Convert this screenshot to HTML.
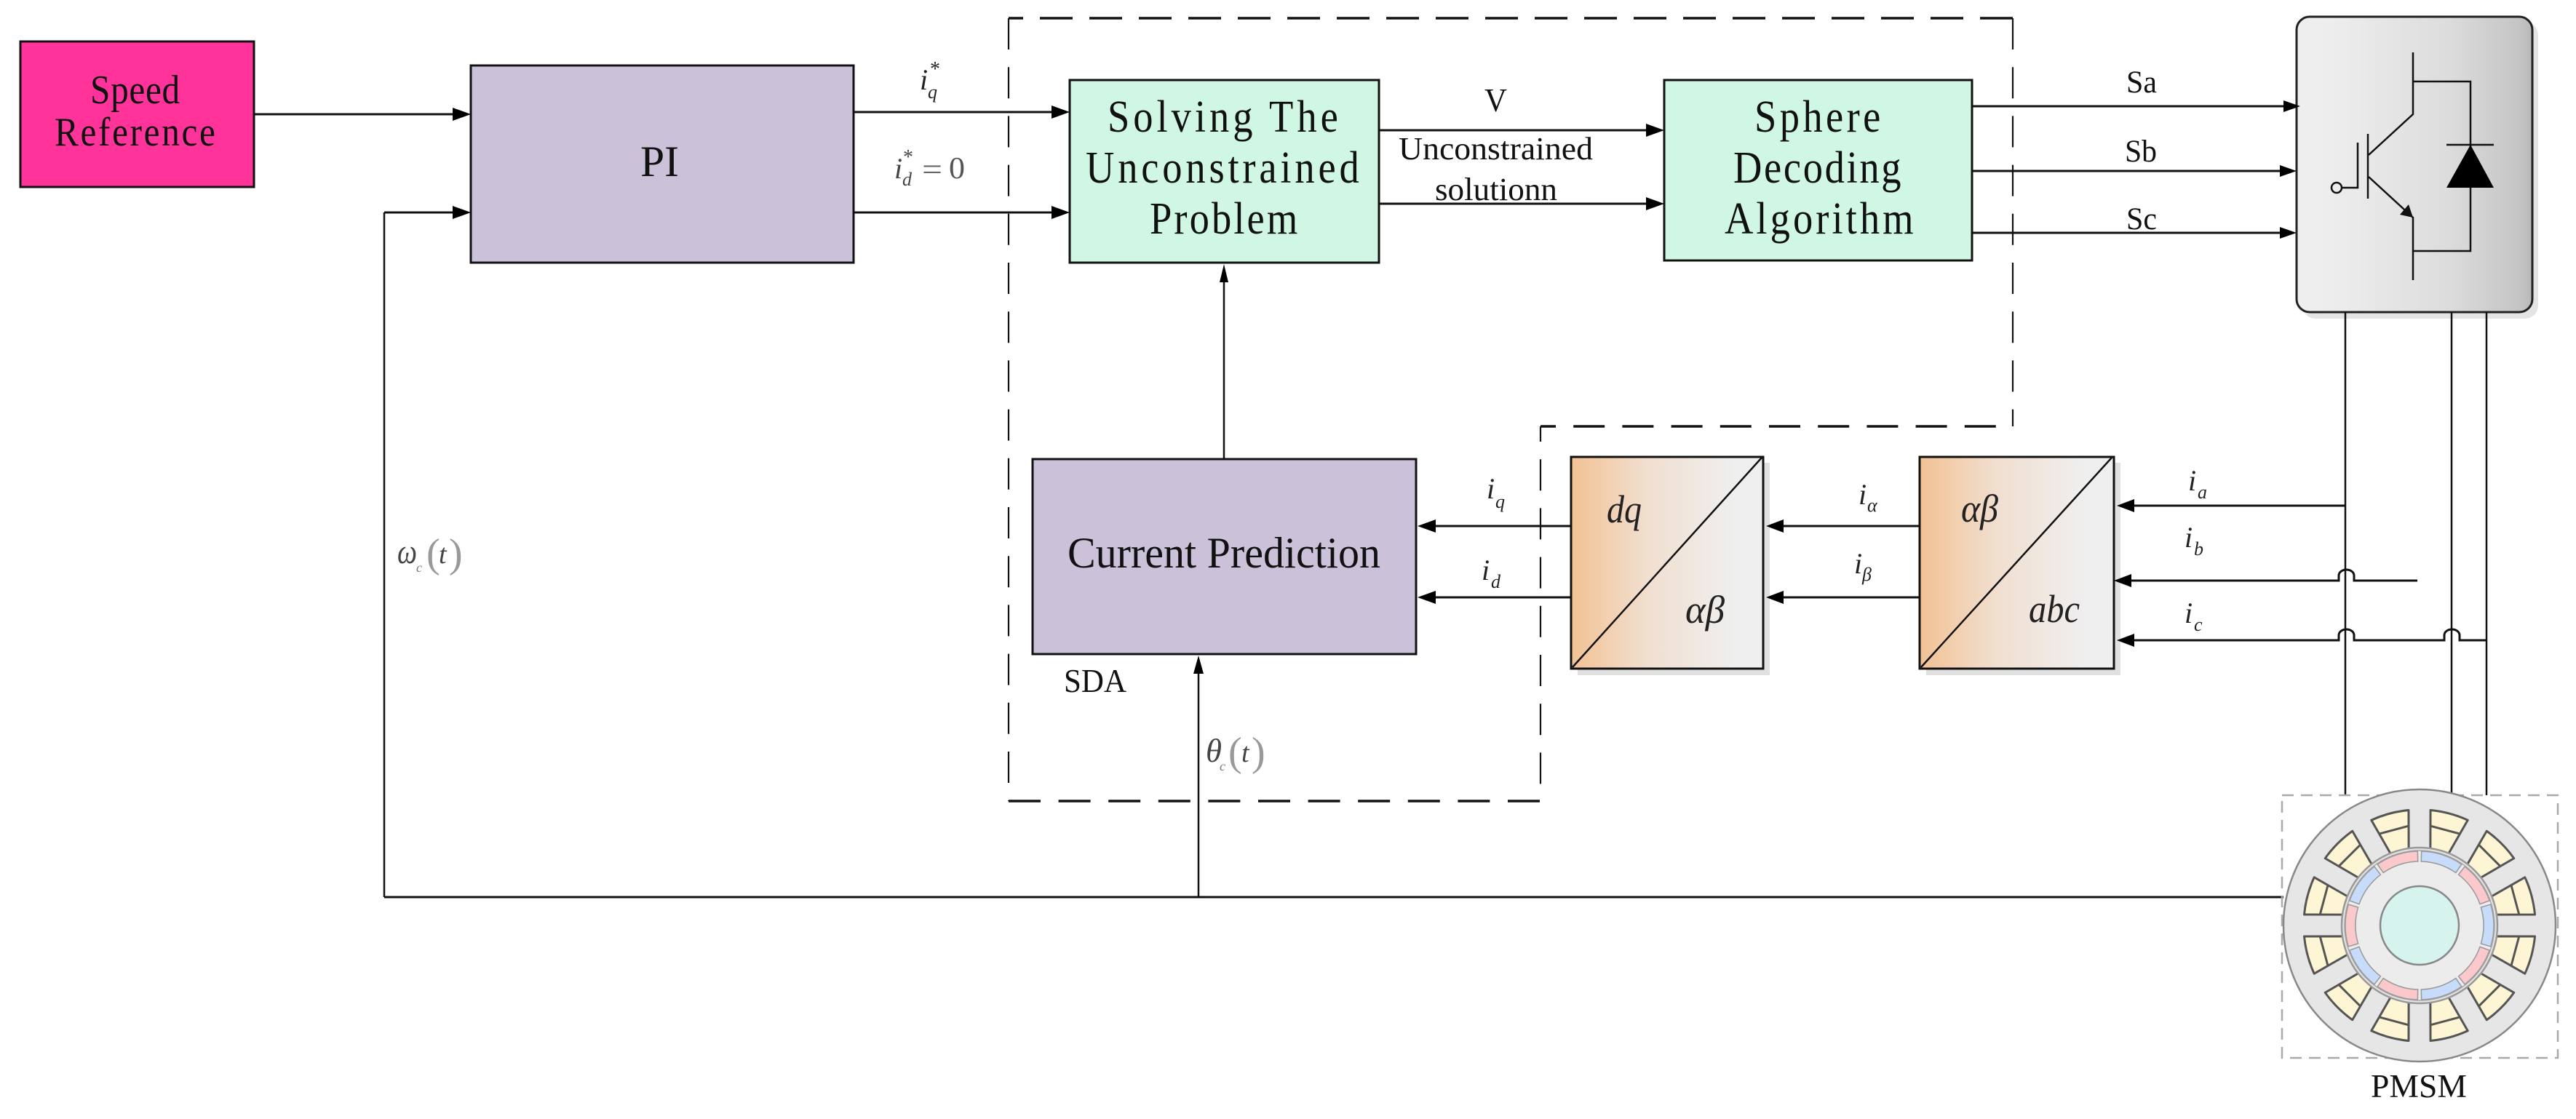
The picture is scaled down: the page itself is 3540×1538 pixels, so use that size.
<!DOCTYPE html>
<html><head><meta charset="utf-8"><style>
html,body{margin:0;padding:0;background:#fff}
svg{display:block}
.m{font-family:"Liberation Serif",serif;fill:#111}
.s{font-family:"Liberation Serif",serif;fill:#111}
.i{font-family:"Liberation Serif",serif;font-style:italic;fill:#222}
</style></head><body>
<svg xmlns="http://www.w3.org/2000/svg" width="3540" height="1538" viewBox="0 0 3540 1538">
<defs>
<linearGradient id="g1" x1="0" x2="1" y1="0" y2="0"><stop offset="0" stop-color="#f2c294"/><stop offset=".4" stop-color="#f1dfd0"/><stop offset=".85" stop-color="#efefef"/><stop offset="1" stop-color="#efefef"/></linearGradient>
<linearGradient id="g2" x1="0" x2="1" y1="0" y2="0"><stop offset="0" stop-color="#efefef"/><stop offset=".2" stop-color="#ececec"/><stop offset=".65" stop-color="#dcdcdc"/><stop offset=".95" stop-color="#c4c4c4"/><stop offset="1" stop-color="#b8b8b8"/></linearGradient>
<g id="slot"><path d="M106 -13 L157 -26.5 A159 159 0 0 1 157 26.5 L106 13 Z" fill="#fdf5d3" stroke="#555" stroke-width="3" stroke-linejoin="round"/><path d="M136 -20 V20" stroke="#555" stroke-width="3" fill="none"/><rect x="101" y="-5" width="7" height="10" fill="#fff"/></g>
<path id="mag" d="M97.8 -29 A102 102 0 0 1 97.8 29 L84.4 25 A88 88 0 0 0 84.4 -25 Z" stroke="#999" stroke-width="1.5"/>
</defs>
<rect width="3540" height="1538" fill="#fff"/>

<!-- dashed region -->
<g fill="none" stroke="#111">
<g stroke-width="3.5">
<path d="M1386 25 H2766" stroke-dasharray="45 23" stroke-dashoffset="25"/>
<path d="M2117 586 H2766" stroke-dasharray="43 24.2" stroke-dashoffset="22"/>
<path d="M1386 1101 H2116" stroke-dasharray="44 24.6"/>
</g>
<g stroke-width="2.2">
<path d="M1386 25 V1101" stroke-dasharray="43 24.2"/>
<path d="M2766 25 V586" stroke-dasharray="43 24.2"/>
<path d="M2117 586 V1101" stroke-dasharray="43 24.2" stroke-dashoffset="22"/>
</g>
</g>

<!-- boxes -->
<rect x="28" y="57" width="321" height="200" fill="#ff3399" stroke="#111" stroke-width="3"/>
<rect x="647" y="90" width="526" height="271" fill="#cbc2da" stroke="#111" stroke-width="3"/>
<rect x="1470" y="110" width="425" height="251" fill="#cff7e4" stroke="#111" stroke-width="3"/>
<rect x="2287" y="110" width="423" height="248" fill="#cff7e4" stroke="#111" stroke-width="3"/>
<rect x="1419" y="631" width="527" height="268" fill="#cbc2da" stroke="#111" stroke-width="3"/>

<!-- transformation boxes -->
<rect x="2168" y="636" width="264" height="292" fill="#e0e0e0"/>
<rect x="2159" y="628" width="264" height="291" fill="url(#g1)" stroke="#111" stroke-width="3"/>
<path d="M2161 917 L2421 629" stroke="#111" stroke-width="2.5" fill="none"/>
<rect x="2647" y="636" width="267" height="292" fill="#e0e0e0"/>
<rect x="2638" y="628" width="267" height="291" fill="url(#g1)" stroke="#111" stroke-width="3"/>
<path d="M2640 917 L2902 629" stroke="#111" stroke-width="2.5" fill="none"/>

<!-- inverter -->
<rect x="3164" y="30" width="324" height="408" rx="18" fill="#e4e4e4"/>
<rect x="3156" y="23" width="324" height="406" rx="18" fill="url(#g2)" stroke="#222" stroke-width="3"/>
<g fill="none" stroke="#111" stroke-width="2.5">
<path d="M3316 72 V157 L3255 213"/>
<path d="M3254 184 V273"/>
<path d="M3218 258 H3240 V196"/>
<circle cx="3211" cy="258" r="7"/>
<path d="M3255 243 L3316 299 V385"/>
<path d="M3316 112 H3395 V345 H3316"/>
<path d="M3362 199 H3427"/>
</g>
<polygon points="3395,199 3427,258 3362,258" fill="#000"/>
<polygon points="3316,299 3298,295 3310,281" fill="#111"/>

<!-- connectors -->
<g fill="none" stroke="#111">
<g stroke-width="3">
<path d="M349 157 H630"/>
<path d="M528 292 H630"/>
<path d="M1173 154 H1455"/>
<path d="M1173 292 H1455"/>
<path d="M1895 179 H2270"/>
<path d="M1895 280 H2270"/>
<path d="M2710 146 H3150"/>
<path d="M2710 235 H3140"/>
<path d="M2710 320 H3140"/>
<path d="M2159 723 H1965"/>
<path d="M2159 821 H1965"/>
<path d="M2638 723 H2445"/>
<path d="M2638 821 H2445"/>
<path d="M3223 695 H2925"/>
<path d="M3322 798 H3235 V791 A10.5 8 0 0 0 3214 791 V798 H2925"/>
<path d="M3417 880 H3380 V873 A10.5 8 0 0 0 3359 873 V880 H3235 V873 A10.5 8 0 0 0 3214 873 V880 H2925"/>
<path d="M528 1233 H3138"/>
</g>
<g stroke-width="2.5">
<path d="M528 292 V1233"/>
<path d="M1682 630 V380"/>
<path d="M1647 1233 V920"/>
<path d="M3223 429 V1093"/>
<path d="M3369 429 V1093"/>
<path d="M3417 429 V1093"/>
</g>
</g>
<g fill="#000">
<polygon points="647,157 622,148 622,166"/>
<polygon points="647,292 622,283 622,301"/>
<polygon points="1470,154 1445,145 1445,163"/>
<polygon points="1470,292 1445,283 1445,301"/>
<polygon points="2287,179 2262,170 2262,188"/>
<polygon points="2287,280 2262,271 2262,289"/>
<polygon points="3161,146 3138,138 3138,154"/>
<polygon points="3156,235 3133,227 3133,243"/>
<polygon points="3156,320 3133,312 3133,328"/>
<polygon points="1948,723 1973,714 1973,732"/>
<polygon points="1948,821 1973,812 1973,830"/>
<polygon points="2427,723 2451,714 2451,732"/>
<polygon points="2427,821 2451,812 2451,830"/>
<polygon points="2909,695 2933,686 2933,704"/>
<polygon points="2905,798 2929,789 2929,807"/>
<polygon points="2909,880 2933,871 2933,889"/>
<polygon points="1682,363 1676,388 1688,388"/>
<polygon points="1647,901 1640,926 1654,926"/>
</g>

<!-- motor -->
<rect x="3136" y="1093" width="379" height="361" fill="none" stroke="#aaa" stroke-width="2.5" stroke-dasharray="16 10"/>
<g transform="translate(3325 1272)">
<circle r="187" fill="#e6e6e6" stroke="#888" stroke-width="2.5"/>
<use href="#slot" transform="rotate(15)"/><use href="#slot" transform="rotate(45)"/><use href="#slot" transform="rotate(75)"/><use href="#slot" transform="rotate(105)"/><use href="#slot" transform="rotate(135)"/><use href="#slot" transform="rotate(165)"/><use href="#slot" transform="rotate(195)"/><use href="#slot" transform="rotate(225)"/><use href="#slot" transform="rotate(255)"/><use href="#slot" transform="rotate(285)"/><use href="#slot" transform="rotate(315)"/><use href="#slot" transform="rotate(345)"/>
<circle r="107" fill="#e4e4e4" stroke="#999" stroke-width="2.5"/>
<circle r="103" fill="#ececec" stroke="#aaa" stroke-width="1.5"/>
<use href="#mag" fill="#c7dcfa"/>
<use href="#mag" fill="#fbc8cc" transform="rotate(36)"/>
<use href="#mag" fill="#c7dcfa" transform="rotate(72)"/>
<use href="#mag" fill="#fbc8cc" transform="rotate(108)"/>
<use href="#mag" fill="#c7dcfa" transform="rotate(144)"/>
<use href="#mag" fill="#fbc8cc" transform="rotate(180)"/>
<use href="#mag" fill="#c7dcfa" transform="rotate(216)"/>
<use href="#mag" fill="#fbc8cc" transform="rotate(252)"/>
<use href="#mag" fill="#c7dcfa" transform="rotate(288)"/>
<use href="#mag" fill="#fbc8cc" transform="rotate(324)"/>
<circle r="54" fill="#d6f3ee" stroke="#888" stroke-width="2.5"/>
</g>

<!-- condensed, spaced serif text (SimSun-like) -->
<g class="m">
<text transform="translate(124 142) scale(.88 1)" font-size="56" textLength="140" lengthAdjust="spacing">Speed</text>
<text transform="translate(75 200) scale(.88 1)" font-size="56" textLength="251" lengthAdjust="spacing">Reference</text>
<text x="880" y="242" font-size="60" textLength="53" lengthAdjust="spacingAndGlyphs">PI</text>
<text transform="translate(1522 181) scale(.88 1)" font-size="62" textLength="360" lengthAdjust="spacing">Solving The</text>
<text transform="translate(1492 251) scale(.88 1)" font-size="62" textLength="427" lengthAdjust="spacing">Unconstrained</text>
<text transform="translate(1580 321) scale(.88 1)" font-size="62" textLength="231" lengthAdjust="spacing">Problem</text>
<text transform="translate(2411 181) scale(.88 1)" font-size="62" textLength="197" lengthAdjust="spacing">Sphere</text>
<text transform="translate(2382 251) scale(.88 1)" font-size="62" textLength="262" lengthAdjust="spacing">Decoding</text>
<text transform="translate(2370 321) scale(.88 1)" font-size="62" textLength="295" lengthAdjust="spacing">Algorithm</text>
</g>

<!-- serif text -->
<g class="s">
<text x="2040" y="153" font-size="45" textLength="31" lengthAdjust="spacingAndGlyphs">V</text>
<text x="1922" y="219" font-size="44" textLength="267" lengthAdjust="spacingAndGlyphs">Unconstrained</text>
<text x="1972" y="275" font-size="44" textLength="168" lengthAdjust="spacingAndGlyphs">solutionn</text>
<text x="2922" y="127" font-size="43" textLength="42" lengthAdjust="spacingAndGlyphs">Sa</text>
<text x="2920" y="222" font-size="43" textLength="44" lengthAdjust="spacingAndGlyphs">Sb</text>
<text x="2922" y="315" font-size="43" textLength="42" lengthAdjust="spacingAndGlyphs">Sc</text>
<text x="1467" y="780" font-size="60" textLength="430" lengthAdjust="spacingAndGlyphs">Current Prediction</text>
<text x="1462" y="951" font-size="45" textLength="86" lengthAdjust="spacingAndGlyphs">SDA</text>
<text x="3258" y="1508" font-size="45" textLength="132" lengthAdjust="spacingAndGlyphs">PMSM</text>
</g>

<!-- math labels -->
<g class="i">
<text x="2208" y="718" font-size="54" textLength="48" lengthAdjust="spacingAndGlyphs">dq</text>
<text x="2316" y="856" font-size="54" textLength="54" lengthAdjust="spacingAndGlyphs">αβ</text>
<text x="2695" y="717" font-size="54" textLength="51" lengthAdjust="spacingAndGlyphs">αβ</text>
<text x="2788" y="855" font-size="54" textLength="70" lengthAdjust="spacingAndGlyphs">abc</text>

<text x="1264" y="123" font-size="40">i</text><text x="1275" y="135" font-size="26">q</text><text x="1278" y="104" font-size="28" font-style="normal">*</text>
<text x="1229" y="245" font-size="40" fill="#444">i</text><text x="1240" y="255" font-size="26" fill="#444">d</text><text x="1241" y="225" font-size="28" font-style="normal" fill="#444">*</text>
<text x="1267" y="247" font-size="42" font-style="normal" fill="#666" textLength="28" lengthAdjust="spacingAndGlyphs">=</text>
<text x="1304" y="245" font-size="42" font-style="normal" fill="#555" textLength="22" lengthAdjust="spacingAndGlyphs">0</text>

<text x="2043" y="685" font-size="40">i</text><text x="2055" y="698" font-size="26">q</text>
<text x="2036" y="797" font-size="40">i</text><text x="2049" y="808" font-size="26">d</text>
<text x="2554" y="693" font-size="40">i</text><text x="2566" y="703" font-size="26">α</text>
<text x="2548" y="788" font-size="40">i</text><text x="2559" y="798" font-size="26">β</text>
<text x="3007" y="674" font-size="40">i</text><text x="3020" y="685" font-size="26">a</text>
<text x="3002" y="752" font-size="40">i</text><text x="3015" y="763" font-size="26">b</text>
<text x="3002" y="856" font-size="40">i</text><text x="3015" y="867" font-size="26">c</text>

<text x="546" y="774" font-size="48" fill="#444" textLength="27" lengthAdjust="spacingAndGlyphs">ω</text>
<text x="572" y="786" font-size="18" fill="#777">c</text>
<text x="586" y="779" font-size="56" font-style="normal" fill="#999" font-weight="normal">(</text>
<text x="603" y="774" font-size="38" fill="#444">t</text>
<text x="617" y="779" font-size="56" font-style="normal" fill="#999">)</text>

<text x="1657" y="1047" font-size="46" fill="#444" textLength="22" lengthAdjust="spacingAndGlyphs">θ</text>
<text x="1676" y="1059" font-size="18" fill="#777">c</text>
<text x="1688" y="1052" font-size="56" font-style="normal" fill="#999">(</text>
<text x="1706" y="1047" font-size="38" fill="#444">t</text>
<text x="1720" y="1052" font-size="56" font-style="normal" fill="#999">)</text>
</g>
</svg>
</body></html>
